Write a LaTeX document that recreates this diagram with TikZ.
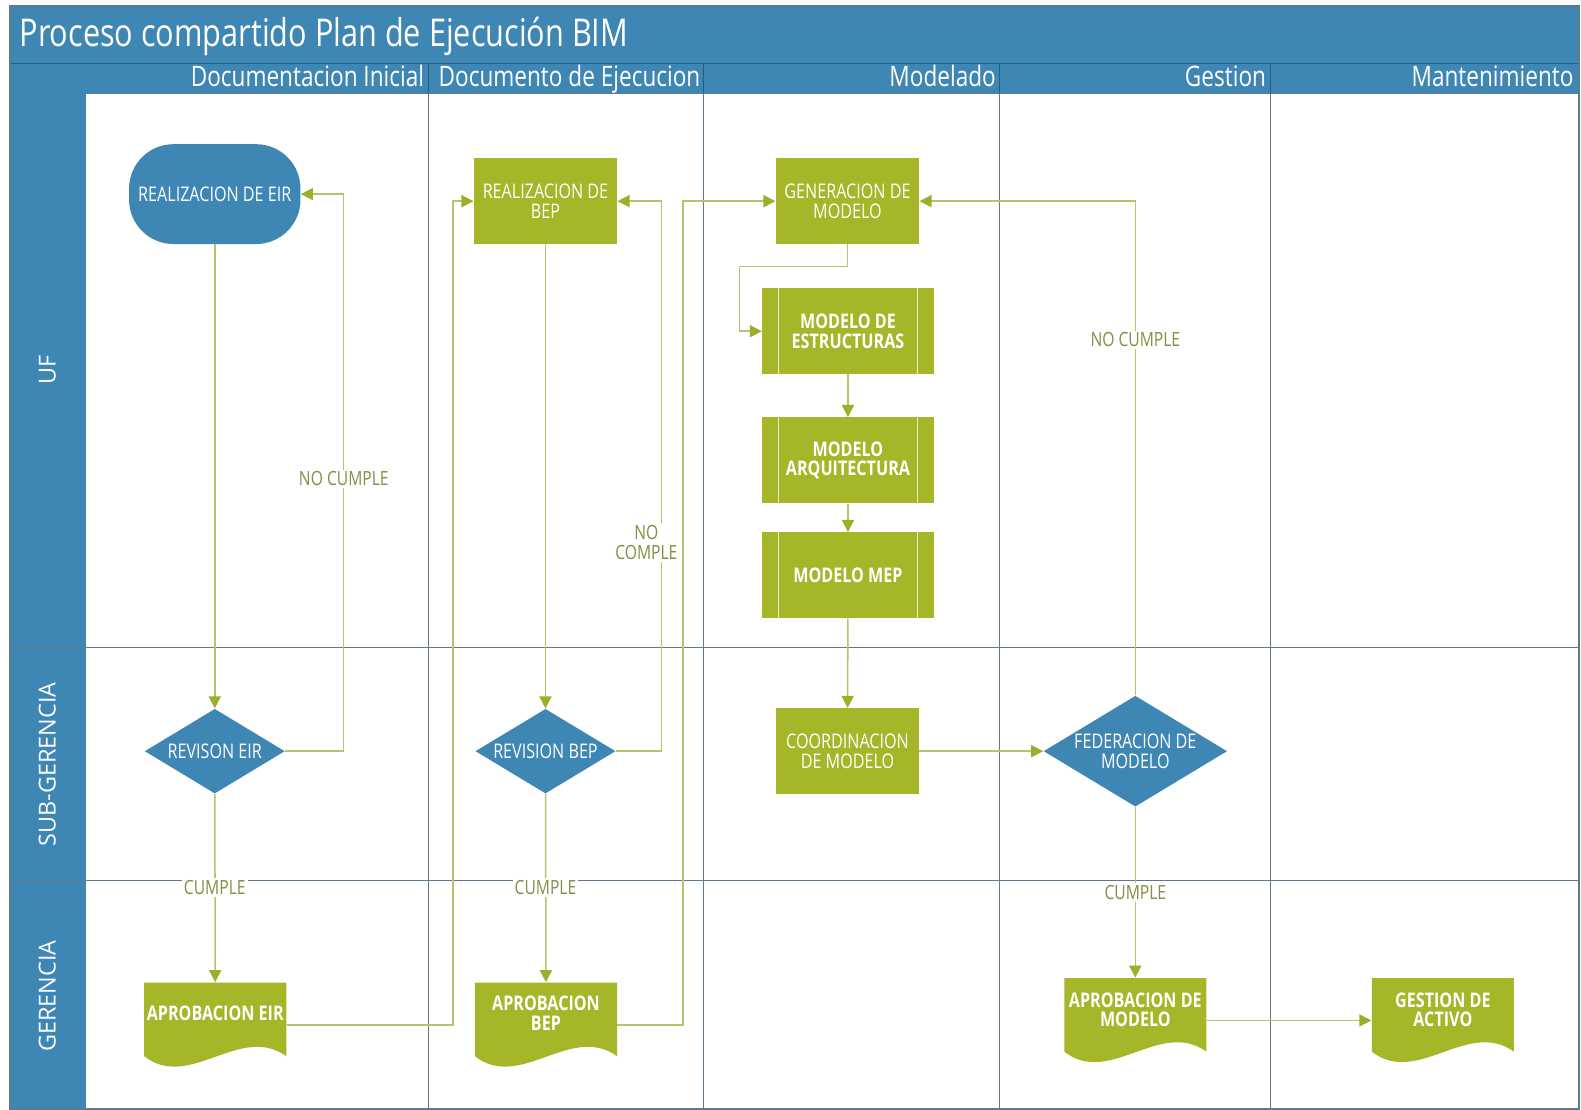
\documentclass[tikz,border=0pt]{standalone}
\usepackage{fontspec}
\setmainfont{Open Sans}[FakeStretch=0.8]
\newfontfamily\lanefont{Open Sans}
\usetikzlibrary{arrows.meta, shapes.geometric}

\definecolor{laneblue}{RGB}{62,134,180}
\definecolor{bandline}{RGB}{38,92,132}
\definecolor{gridgray}{RGB}{96,120,142}
\definecolor{procgreen}{RGB}{165,182,40}
\definecolor{linegreen}{RGB}{182,195,110}
\definecolor{tipgreen}{RGB}{156,175,42}
\definecolor{condolive}{RGB}{132,142,68}

\tikzset{
    boxtext/.style = {text = white, align = center, font = \fontsize{10}{9.8}\selectfont},
    proc/.style = {rectangle, fill = procgreen, boxtext, inner sep = 0pt,
        minimum width = 71pt, minimum height = 42.5pt},
    terminal/.style = {proc, fill = laneblue, rounded corners = 22pt,
        minimum width = 85pt, minimum height = 49.5pt},
    subproc/.style = {proc, minimum width = 85pt, font = \fontsize{10}{9.8}\selectfont\bfseries,
        path picture = {
            \draw [white!75!procgreen, line width = 0.6pt]
                ([xshift = 8pt]path picture bounding box.north west) -- ([xshift = 8pt]path picture bounding box.south west)
                ([xshift = -8pt]path picture bounding box.north east) -- ([xshift = -8pt]path picture bounding box.south east);
        }},
    decision/.style = {diamond, fill = laneblue, inner sep = 0pt, aspect = 1.6,
        minimum width = 69.5pt, minimum height = 42pt},
    doc/.style = {rectangle, inner sep = 0pt, minimum width = 70.5pt, minimum height = 42pt,
        path picture = {
            \fill [procgreen] (path picture bounding box.north west) -- (path picture bounding box.north east)
                -- ([yshift = -36.5pt]path picture bounding box.north east)
                .. controls ([xshift = -23pt, yshift = -20pt]path picture bounding box.north east)
                and ([xshift = 22.5pt, yshift = -54pt]path picture bounding box.north west)
                .. ([yshift = -36.5pt]path picture bounding box.north west) -- cycle;
        }},
    doctext/.style = {boxtext, font = \fontsize{10}{9.8}\selectfont\bfseries},
    flow/.style = {draw = linegreen, line width = 0.75pt,
        -{Triangle[length = 6pt, width = 6pt, color = tipgreen]}},
    cond/.style = {fill = white, text = condolive, align = center, inner sep = 1pt,
        font = \fontsize{9.7}{9.8}\selectfont},
    header/.style = {text = white, inner sep = 0pt, font = \fontsize{14}{16}\selectfont},
    lanename/.style = {text = white, rotate = 90, inner sep = 0pt, font = \lanefont\fontsize{11.6}{13}\selectfont}
}

\begin{document}
\begin{tikzpicture}[x = 0.5pt, y = -0.5pt]
    \useasboundingbox (0, 0) rectangle (1568, 1100);
    \fill [white] (0, 0) rectangle (1568, 1100);
    \fill [laneblue] (10, 6) rectangle (1566, 93);
    \fill [laneblue] (10, 93) rectangle (85, 1100);
    \foreach \x in {425, 698, 991, 1260} {
        \draw [bandline, line width = 0.6pt] (\x, 63) -- (\x, 93);
        \draw [gridgray, line width = 0.6pt] (\x, 93) -- (\x, 1100);
    }
    \foreach \y in {642, 873}
        \draw [gridgray, line width = 0.7pt] (10, \y) -- (1566, \y);
    \draw [bandline, line width = 0.7pt] (10, 63) -- (1566, 63);
    \draw [gridgray, line width = 0.6pt] (85, 93) -- (1566, 93);
    \draw [gridgray, line width = 0.7pt] (10, 6) rectangle (1566, 1100);

    \node [anchor = base west, text = white, inner sep = 0pt, font = \fontsize{19}{22}\selectfont]
        (title) at (19, 46) {Proceso compartido Plan de Ejecución BIM};
    \node [header, anchor = base east] (hdoc) at (421, 86) {Documentacion Inicial};
    \node [header, anchor = base east] (hejec) at (695, 86) {Documento de Ejecucion};
    \node [header, anchor = base east] (hmod) at (988, 86) {Modelado};
    \node [header, anchor = base east] (hgest) at (1256, 86) {Gestion};
    \node [header, anchor = base east] (hmant) at (1561, 86) {Mantenimiento};

    \node [lanename] (luf) at (47, 367) {UF};
    \node [lanename] (lsub) at (47, 758) {SUB-GERENCIA};
    \node [lanename] (lger) at (47, 988) {GERENCIA};

    \node [terminal] (eir) at (213, 192.5) {REALIZACION DE EIR};
    \node [proc] (bep) at (541, 199.5) {REALIZACION DE\\BEP};
    \node [proc] (gen) at (840.5, 199.5) {GENERACION DE\\MODELO};
    \node [subproc] (estr) at (841, 328.5) {MODELO DE\\ESTRUCTURAS};
    \node [subproc] (arq) at (841, 456.5) {MODELO\\ARQUITECTURA};
    \node [subproc] (mep) at (841, 570.5) {MODELO MEP};
    \node [decision, label = {[boxtext]center:REVISON EIR}] (reveir) at (213, 745) {};
    \node [decision, label = {[boxtext]center:REVISION BEP}] (revbep) at (541, 745) {};
    \node [proc] (coord) at (840.5, 745) {COORDINACION\\DE MODELO};
    \node [decision, minimum width = 91pt, minimum height = 55pt,
        label = {[boxtext]center:FEDERACION DE\\MODELO}] (fed) at (1126, 745) {};
    \node [doc, label = {[doctext, yshift = 5.75pt]center:APROBACION EIR}] (apeir) at (213.5, 1016.5) {};
    \node [doc, label = {[doctext, yshift = 6pt]center:APROBACION\\BEP}] (apbep) at (541.5, 1016.5) {};
    \node [doc, label = {[doctext, yshift = 5.25pt]center:APROBACION DE\\MODELO}] (apmod) at (1126, 1012) {};
    \node [doc, label = {[doctext, yshift = 5.25pt]center:GESTION DE\\ACTIVO}] (gest) at (1431, 1012) {};

    \draw [flow] (eir) -- (reveir);
    \draw [flow] (reveir.east) -- ++(58, 0) |- (eir.east);
    \draw [flow] (reveir) -- (apeir);
    \draw [flow] (apeir.east) -- ++(165, 0) |- (bep.west);
    \draw [flow] (bep) -- (revbep);
    \draw [flow] (revbep.east) -- ++(45, 0) |- (bep.east);
    \draw [flow] (revbep) -- (apbep);
    \draw [flow] (apbep.east) -- ++(65, 0) |- (gen.west);
    \draw [flow] (gen.south) -- ++(0, 22) -| ([xshift = -11pt]estr.west) -- (estr.west);
    \draw [flow] (estr) -- (arq);
    \draw [flow] (arq) -- (mep);
    \draw [flow] (mep) -- (coord);
    \draw [flow] (coord) -- (fed);
    \draw [flow] (fed.north) |- (gen.east);
    \draw [flow] (fed) -- (apmod);
    \draw [flow] (apmod) -- (gest);

    \node [cond] (nceir) at (341, 475) {NO CUMPLE};
    \node [cond] (ceir) at (213, 880) {CUMPLE};
    \node [cond] (ncbep) at (641, 538) {NO\\COMPLE};
    \node [cond] (cbep) at (541, 880) {CUMPLE};
    \node [cond] (ncmod) at (1126, 337) {NO CUMPLE};
    \node [cond] (cmod) at (1126, 885) {CUMPLE};
\end{tikzpicture}
\end{document}
